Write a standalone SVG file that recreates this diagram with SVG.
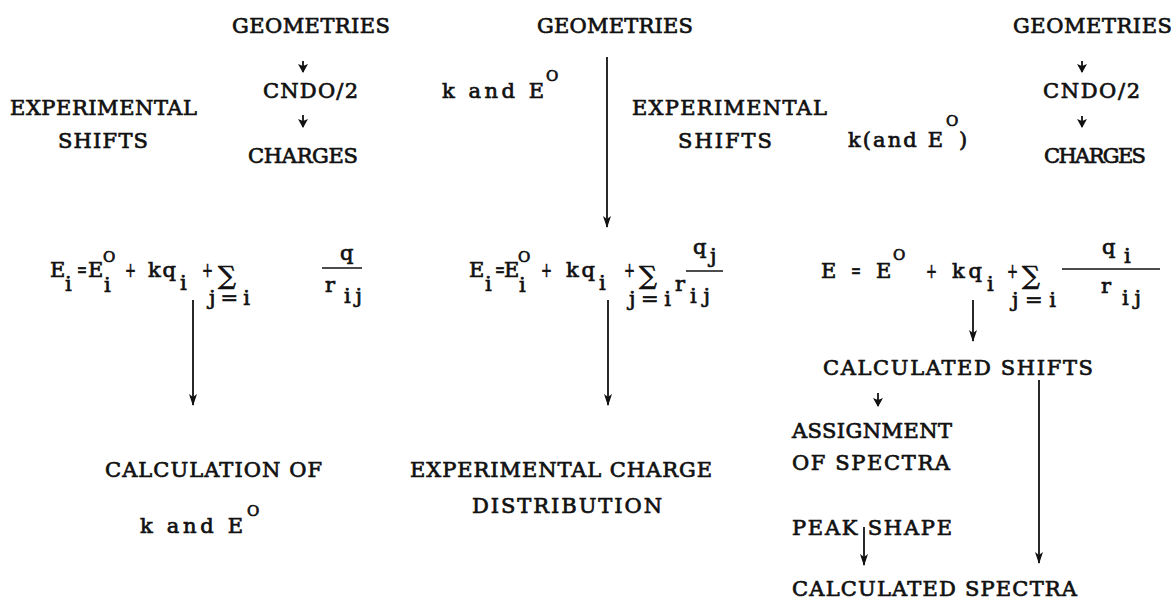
<svg xmlns="http://www.w3.org/2000/svg" width="1175" height="601" viewBox="0 0 1175 601">
<defs>
<style>
text{font-family:"DejaVu Serif","Liberation Serif",serif;font-size:21px;fill:#111;stroke:#111;stroke-width:0.7}
.sup{font-size:15px}
.sig{font-family:"DejaVu Serif","DejaVu Sans",serif;font-size:25px}
.ln{stroke:#111;stroke-width:1.8;fill:none}
.fr{stroke:#111;stroke-width:1.7}
</style>
<marker id="ah" markerUnits="userSpaceOnUse" markerWidth="8" markerHeight="12" refX="4" refY="11" viewBox="0 0 8 12">
<path d="M0,0 L4,12 L8,0 L4,3 Z" fill="#111"/>
</marker>
<marker id="as" markerUnits="userSpaceOnUse" markerWidth="10" markerHeight="9" refX="5" refY="8" viewBox="0 0 10 9">
<path d="M0,0 L5,9 L10,0 L5,2 Z" fill="#111"/>
</marker>
</defs>
<rect width="1175" height="601" fill="#fff"/>

<g id="left-geometries"><text x="232" y="33" textLength="158" lengthAdjust="spacing">GEOMETRIES</text></g>
<g id="left-cndo"><text x="263" y="98" textLength="95" lengthAdjust="spacing">CNDO/2</text></g>
<g id="left-charges"><text x="248" y="163" textLength="110" lengthAdjust="spacing">CHARGES</text></g>
<g id="left-exp-shifts">
<text x="10" y="115" textLength="187" lengthAdjust="spacing">EXPERIMENTAL</text>
<text x="58" y="148" textLength="90" lengthAdjust="spacing">SHIFTS</text>
</g>

<g id="mid-geometries"><text x="537" y="33" textLength="156" lengthAdjust="spacing">GEOMETRIES</text></g>
<g id="mid-k-e0"><text x="442" y="98" textLength="102" lengthAdjust="spacing">k and E</text><text class="sup" x="546" y="81">O</text></g>
<g id="mid-exp-shifts">
<text x="632" y="115" textLength="195" lengthAdjust="spacing">EXPERIMENTAL</text>
<text x="678" y="148" textLength="94" lengthAdjust="spacing">SHIFTS</text>
</g>
<g id="right-k-e0"><text x="848" y="147" textLength="95" lengthAdjust="spacing">k(and E</text><text class="sup" x="946" y="126">O</text><text x="959" y="147">)</text></g>

<g id="right-geometries"><text x="1013" y="33" textLength="159" lengthAdjust="spacing">GEOMETRIES</text></g>
<g id="right-cndo"><text x="1043" y="98" textLength="97" lengthAdjust="spacing">CNDO/2</text></g>
<g id="right-charges"><text x="1044" y="163" textLength="102" lengthAdjust="spacing">CHARGES</text></g>

<g id="eq1">
<text x="50" y="277">E</text><text x="65" y="291">i</text>
<text x="77" y="277" textLength="10" lengthAdjust="spacingAndGlyphs">=</text><text x="88" y="277">E</text>
<text class="sup" x="103" y="262">O</text><text x="104" y="292">i</text>
<text x="125" y="277" textLength="11" lengthAdjust="spacingAndGlyphs">+</text>
<text x="148" y="277" textLength="28" lengthAdjust="spacing">kq</text><text x="180" y="290">i</text>
<text x="202" y="277" textLength="11" lengthAdjust="spacingAndGlyphs">+</text>
<text class="sig" x="218" y="284">∑</text>
<text x="209" y="305" textLength="41" lengthAdjust="spacing">j=i</text>
<text x="340" y="260">q</text><line class="fr" x1="322" y1="268" x2="362" y2="268"/>
<text x="325" y="292">r</text><text x="344" y="303" textLength="18" lengthAdjust="spacing">ij</text>
</g>

<g id="eq2">
<text x="469" y="277">E</text><text x="485" y="291">i</text>
<text x="495" y="277" textLength="10" lengthAdjust="spacingAndGlyphs">=</text><text x="504" y="277">E</text>
<text class="sup" x="518" y="262">O</text><text x="519" y="292">i</text>
<text x="541" y="277" textLength="11" lengthAdjust="spacingAndGlyphs">+</text>
<text x="566" y="277" textLength="29" lengthAdjust="spacing">kq</text><text x="599" y="290">i</text>
<text x="624" y="277" textLength="11" lengthAdjust="spacingAndGlyphs">+</text>
<text class="sig" x="639" y="284">∑</text>
<text x="629" y="306" textLength="42" lengthAdjust="spacing">j=i</text>
<text x="675" y="291">r</text><text x="690" y="303" textLength="20" lengthAdjust="spacing">ij</text>
<text x="693" y="254">q</text><text x="710" y="263">j</text>
<line class="fr" x1="686" y1="271" x2="723" y2="271"/>
</g>

<g id="eq3">
<text x="821" y="278">E</text>
<text x="851" y="278" textLength="10" lengthAdjust="spacingAndGlyphs">=</text><text x="876" y="278">E</text>
<text class="sup" x="893" y="260">O</text>
<text x="926" y="278" textLength="11" lengthAdjust="spacingAndGlyphs">+</text>
<text x="952" y="278" textLength="30" lengthAdjust="spacing">kq</text><text x="987" y="291">i</text>
<text x="1007" y="278" textLength="11" lengthAdjust="spacingAndGlyphs">+</text>
<text class="sig" x="1022" y="284">∑</text>
<text x="1012" y="307" textLength="44" lengthAdjust="spacing">j=i</text>
<text x="1102" y="254">q</text><text x="1124" y="263">i</text>
<line class="fr" x1="1062" y1="269" x2="1160" y2="269"/>
<text x="1101" y="293">r</text><text x="1122" y="305" textLength="19" lengthAdjust="spacing">ij</text>
</g>

<g id="calc-k-e0">
<text x="105" y="477" textLength="217" lengthAdjust="spacing">CALCULATION OF</text>
<text x="140" y="533" textLength="103" lengthAdjust="spacing">k and E</text><text class="sup" x="247" y="516">O</text>
</g>
<g id="exp-charge-dist">
<text x="410" y="477" textLength="302" lengthAdjust="spacing">EXPERIMENTAL CHARGE</text>
<text x="472" y="513" textLength="190" lengthAdjust="spacing">DISTRIBUTION</text>
</g>
<g id="calc-shifts"><text x="823" y="375" textLength="270" lengthAdjust="spacing">CALCULATED SHIFTS</text></g>
<g id="assignment"><text x="792" y="438" textLength="160" lengthAdjust="spacing">ASSIGNMENT</text><text x="792" y="470" textLength="158" lengthAdjust="spacing">OF SPECTRA</text></g>
<g id="peak-shape"><text x="792" y="535" textLength="160" lengthAdjust="spacing">PEAK SHAPE</text></g>
<g id="calc-spectra"><text x="792" y="596" textLength="285" lengthAdjust="spacing">CALCULATED SPECTRA</text></g>

<g id="connectors">
<line class="ln" x1="303" y1="61" x2="303" y2="72" marker-end="url(#as)"/>
<line class="ln" x1="303" y1="115" x2="303" y2="127" marker-end="url(#as)"/>
<line class="ln" x1="1082" y1="61" x2="1082" y2="72" marker-end="url(#as)"/>
<line class="ln" x1="1082" y1="116" x2="1082" y2="127" marker-end="url(#as)"/>
<line class="ln" x1="607" y1="57" x2="607" y2="227" marker-end="url(#ah)"/>
<line class="ln" x1="193" y1="300" x2="193" y2="405" marker-end="url(#ah)"/>
<line class="ln" x1="608" y1="300" x2="608" y2="405" marker-end="url(#ah)"/>
<line class="ln" x1="973" y1="300" x2="973" y2="341" marker-end="url(#ah)"/>
<line class="ln" x1="878" y1="393" x2="878" y2="406" marker-end="url(#as)"/>
<line class="ln" x1="1039" y1="380" x2="1039" y2="563" marker-end="url(#ah)"/>
<line class="ln" x1="864" y1="527" x2="864" y2="565" marker-end="url(#ah)"/>
</g>
</svg>
